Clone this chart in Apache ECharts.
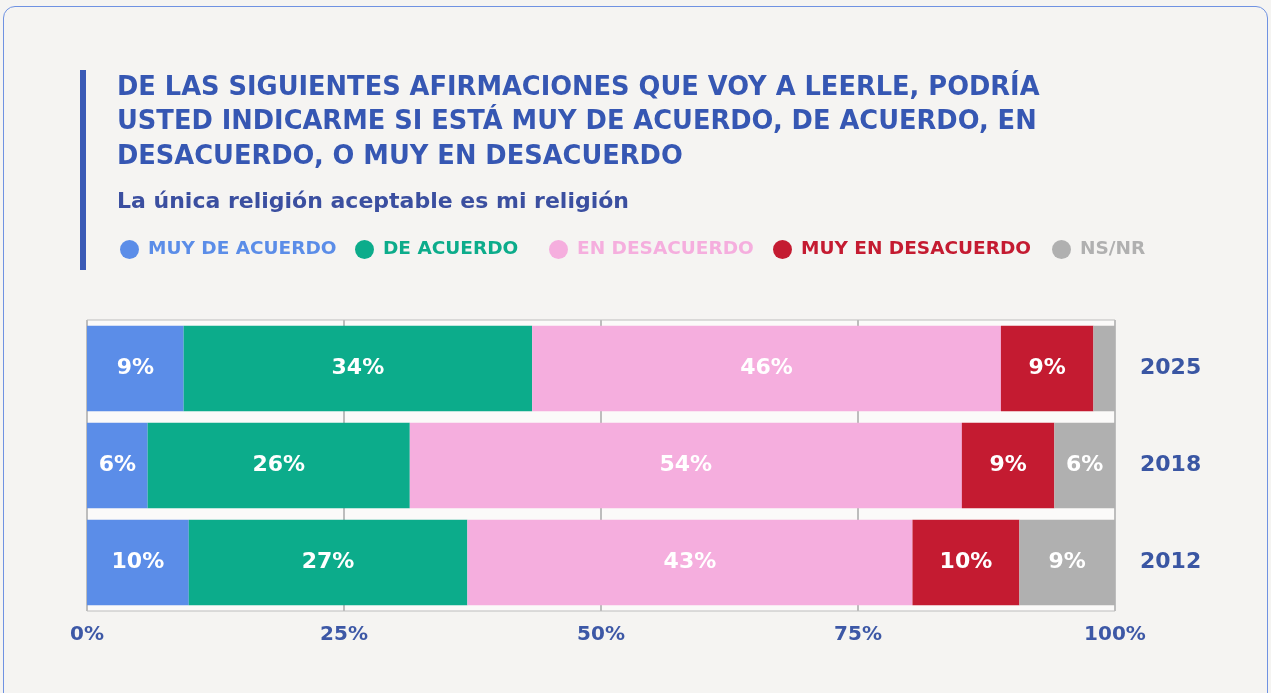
<!DOCTYPE html>
<html>
<head>
<meta charset="utf-8">
<script src="https://cdn.jsdelivr.net/npm/echarts@6/dist/echarts.min.js"></script>
<style>
  html, body { margin: 0; padding: 0; background: #f5f4f2; overflow: hidden; }
  #card {
    position: absolute; left: 3px; top: 6px; width: 1263px; height: 700px;
    border: 1px solid #6f92e2; border-radius: 12px; background: #f5f4f2;
  }
  #chart { position: absolute; left: 0; top: 0; width: 1271px; height: 693px; }
</style>
</head>
<body>
<div id="card"></div>
<div id="chart"></div>
<script>
var years = ['2025', '2018', '2012']
var seriesNames = ['MUY DE ACUERDO', 'DE ACUERDO', 'EN DESACUERDO', 'MUY EN DESACUERDO', 'NS/NR']
var colors = ['#5b8de8', '#0cac8b', '#f5aede', '#c41b31', '#b0b0b0']
var muyDeAcuerdo = [9.4, 5.9, 9.9]
var deAcuerdo = [33.9, 25.5, 27.1]
var enDesacuerdo = [45.6, 53.7, 43.3]
var muyEnDesacuerdo = [9.0, 9.0, 10.4]
var nsnr = [2.1, 5.9, 9.3]
var legendLeft = [120, 355, 549, 773, 1052]

var values = [muyDeAcuerdo, deAcuerdo, enDesacuerdo, muyEnDesacuerdo, nsnr]
var font = '"DejaVu Sans"'
var blue = '#3657b3'

var chart = echarts.init(document.getElementById('chart'))

// one legend per item so each sits where the original put it
var legends = seriesNames.map(function (name, i) {
  return {
    left: legendLeft[i],
    top: 240,
    padding: 0,
    icon: 'circle',
    itemWidth: 19,
    itemHeight: 19,
    itemGap: 0,
    selectedMode: false,
    data: [name],
    textStyle: { color: colors[i], fontFamily: font, fontWeight: 'bold', fontSize: 18.5, padding: [0, 0, 0, 4] }
  }
})

var series = seriesNames.map(function (name, i) {
  return {
    name: name,
    type: 'bar',
    stack: 'total',
    barCategoryGap: '12%',
    itemStyle: { color: colors[i] },
    label: {
      show: true,
      position: 'inside',
      color: '#ffffff',
      fontFamily: font,
      fontWeight: 'bold',
      fontSize: 22,
      formatter: function (p) {
        return p.value < 3 ? '' : Math.round(p.value) + '%'
      }
    },
    data: values[i]
  }
})

chart.setOption({
  color: colors,
  animation: false,
  title: [
    {
      text: 'DE LAS SIGUIENTES AFIRMACIONES QUE VOY A LEERLE, PODRÍA\nUSTED INDICARME SI ESTÁ MUY DE ACUERDO, DE ACUERDO, EN\nDESACUERDO, O MUY EN DESACUERDO',
      left: 112,
      top: 66,
      textStyle: { color: blue, fontFamily: font, fontWeight: 'bold', fontSize: 25.7, lineHeight: 34.5 }
    },
    {
      text: 'La única religión aceptable es mi religión',
      left: 112,
      top: 186,
      textStyle: { color: '#3b4fa0', fontFamily: font, fontWeight: 'bold', fontSize: 22 }
    }
  ],
  graphic: [
    { type: 'rect', left: 80, top: 70, shape: { width: 6, height: 200 }, style: { fill: '#3a5ab6' } }
  ],
  legend: legends,
  grid: {
    left: 87,
    right: 156,
    top: 320,
    bottom: 82,
    show: true,
    backgroundColor: '#fbfaf9',
    borderColor: '#bdbdbd',
    borderWidth: 1
  },
  xAxis: {
    type: 'value',
    min: 0,
    max: 100,
    interval: 25,
    axisLine: { show: false },
    axisTick: { show: false },
    splitLine: { show: true, lineStyle: { color: '#bdbdbd', width: 2 } },
    axisLabel: {
      margin: 14,
      color: '#3d58a6',
      fontFamily: font,
      fontWeight: 'bold',
      fontSize: 20,
      formatter: '{value}%'
    }
  },
  yAxis: {
    type: 'category',
    data: years,
    inverse: true,
    position: 'right',
    axisLine: { show: false },
    axisTick: { show: false },
    axisLabel: {
      margin: 25,
      color: '#3a56a3',
      fontFamily: font,
      fontWeight: 'bold',
      fontSize: 22
    }
  },
  series: series
})
</script>
</body>
</html>
